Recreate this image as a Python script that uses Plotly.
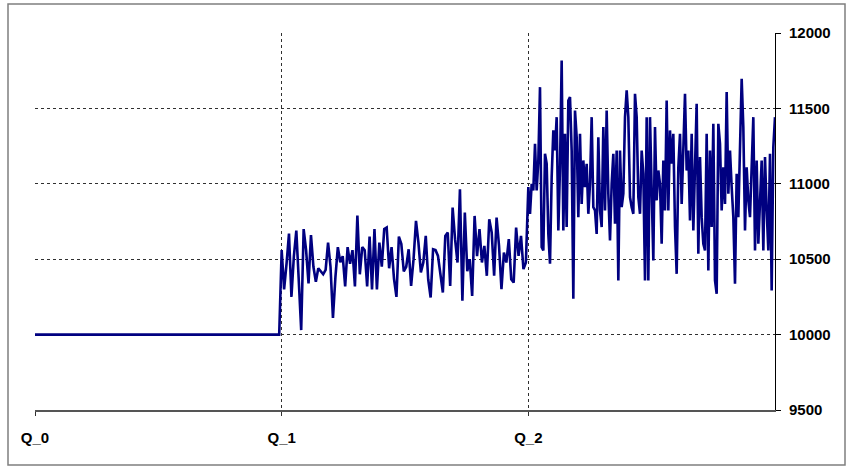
import plotly.graph_objects as go

# Segment values
seg_q0 = [10000] * 100

seg_q1 = [10560, 10300, 10470, 10670, 10250, 10520, 10690, 10380, 10030, 10700,
          10560, 10340, 10660, 10450, 10350, 10440, 10420, 10400, 10430, 10610,
          10450, 10110, 10380, 10580, 10480, 10520, 10320, 10580, 10470, 10560,
          10320, 10790, 10400, 10580, 10560, 10320, 10650, 10300, 10700, 10300,
          10610, 10450, 10700, 10710, 10440, 10580, 10370, 10250, 10650, 10600,
          10420, 10450,
          10566, 10323, 10500, 10754, 10610, 10412, 10478, 10655, 10367, 10246,
          10566, 10560, 10522, 10390, 10279, 10655, 10677, 10323, 10842, 10633,
          10478, 10964, 10224, 10809, 10420, 10500, 10257, 10787, 10520, 10700,
          10478, 10588, 10390, 10765, 10677, 10390, 10776, 10588, 10301, 10544,
          10478, 10633, 10367, 10345, 10710, 10522, 10655, 10434, 10478]

seg_q2 = [10978, 10800, 11000, 10956, 11265, 10956, 11155, 11641, 10580, 10558,
          11199, 11133, 10668, 10470, 11044, 11354, 11221, 11442, 10690, 11110,
          11818, 10690, 11331, 10713, 11552, 11575, 11221, 10238, 11486, 11309,
          10779, 11331, 10867, 11155, 10978, 11133, 10801, 11000, 11442, 10845,
          10823, 10668, 11309, 10823, 10713, 11376, 10823, 11486, 10934, 10624,
          11000, 11199, 10735, 11221, 10359, 11221, 10845, 10934, 11442, 11619,
          11442, 10912, 10845, 10801, 11597, 11442, 10912, 10801, 11221, 11066,
          10359, 11442,
          10359, 11442, 10956, 10492, 11376, 10890, 11088, 11000, 10602, 11155,
          10823, 11552, 10823, 11354, 11133, 11331, 10713, 10403, 11110, 11331,
          10867, 11265, 11597, 11088, 11221, 10757, 11331, 10690, 11066, 11530,
          10536, 11177, 10779, 10602, 10558, 11331, 10425, 11221, 10713, 11398,
          10359, 10271, 11398, 11265, 10823, 11110, 10867, 11608, 10934, 11221,
          10978, 10779, 10337, 11066, 10779, 11221, 11696, 11376, 10690, 11110,
          10890, 10779, 11133, 11442, 10558, 11155, 10602, 10956, 11155, 10558,
          11177, 10823, 10558, 11199, 10293, 11243, 11442]

tick_positions = [0, 100, 200]
tick_labels = ["Q_0", "Q_1", "Q_2"]
y_ticks = [9500, 10000, 10500, 11000, 11500, 12000]

xs, ys = [], []
for i, v in enumerate(seg_q0):
    xs.append(0 + i * 100 / len(seg_q0)); ys.append(v)
for i, v in enumerate(seg_q1):
    xs.append(100 + i * 100 / len(seg_q1)); ys.append(v)
for i, v in enumerate(seg_q2):
    xs.append(200 + i * 100 / (len(seg_q2) - 1)); ys.append(v)

fig = go.Figure()
fig.add_trace(go.Scatter(x=xs, y=ys, mode="lines",
                         line=dict(color="#000080", width=2.6),
                         hoverinfo="skip", showlegend=False))

font_family = "Liberation Sans, Arial, sans-serif"

fig.update_layout(
    width=852, height=470,
    paper_bgcolor="white", plot_bgcolor="white",
    margin=dict(l=35, r=77, t=33, b=60, autoexpand=False),
    font=dict(family=font_family, size=14, color="black"),
    xaxis=dict(
        range=[0, 300], tickvals=tick_positions, ticktext=tick_labels,
        showgrid=True, gridcolor="#303030", griddash="dot", gridwidth=1,
        showline=True, linecolor="#555555", linewidth=1.5,
        ticks="outside", ticklen=4, tickcolor="#303030",
        tickfont=dict(family=font_family, size=15, color="black", weight="bold"),
        ticklabelstandoff=9, zeroline=False, fixedrange=True,
    ),
    yaxis=dict(
        range=[9500, 12000], tickvals=y_ticks, tickformat="d", side="right",
        showgrid=True, gridcolor="#303030", griddash="dot", gridwidth=1,
        showline=True, linecolor="black", linewidth=1,
        ticks="outside", ticklen=5, tickcolor="black",
        tickfont=dict(family=font_family, size=15, color="black", weight="bold"),
        ticklabelstandoff=5, zeroline=False, fixedrange=True,
    ),
    shapes=[dict(type="rect", xref="paper", yref="paper",
                 x0=-27 / 740, x1=810 / 740, y0=-55 / 377, y1=406 / 377,
                 line=dict(color="#7f7f7f", width=1.5), layer="below")],
)

fig.write_html("out.html", post_script="document.body.style.margin='0';",
               config={"displayModeBar": False})
